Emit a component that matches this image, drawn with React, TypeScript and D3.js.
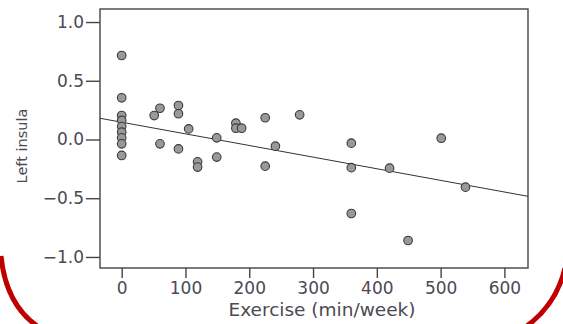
import * as d3 from "d3";
import React, { useEffect, useRef } from "react";

// exercise (min/week) and left insula values
const exercise = [
  0, 0, 0, 0, 0, 0, 0, 0, 0,
  51, 60, 60, 89, 89, 89, 105, 119, 119, 149, 149,
  179, 179, 188, 225, 225, 241, 279, 360, 360, 360,
  420, 449, 501, 539,
];
const insula = [
  0.715, 0.355, 0.204, 0.162, 0.11, 0.062, 0.014, -0.037, -0.136,
  0.204, 0.266, -0.037, 0.289, 0.219, -0.08, 0.09, -0.19, -0.235, 0.014, -0.15,
  0.139, 0.096, 0.096, 0.185, -0.227, -0.057, 0.21, -0.031, -0.24, -0.63,
  -0.244, -0.86, 0.011, -0.406,
];
const xTicks = [0, 100, 200, 300, 400, 500, 600];
const yTicks = [1.0, 0.5, 0.0, -0.5, -1.0];
// fitted line: intercept and slope
const fitIntercept = 0.147;
const fitSlope = -0.00099;

const W = 563;
const H = 324;
const margin = { top: 9, right: 35, bottom: 56, left: 100 };
const font = "'DejaVu Sans', sans-serif";
const textColor = "#4a4a52";

export default function App() {
  const ref = useRef<SVGSVGElement>(null);

  useEffect(() => {
    const svg = d3.select(ref.current);
    svg.selectAll("*").remove();
    const width = W - margin.left - margin.right;
    const height = H - margin.top - margin.bottom;

    const x = d3.scaleLinear().domain([-34, 637]).range([0, width]);
    const y = d3.scaleLinear().domain([-1.094, 1.111]).range([height, 0]);

    const g = svg
      .append("g")
      .attr("transform", `translate(${margin.left},${margin.top})`);

    // frame
    g.append("rect")
      .attr("width", width)
      .attr("height", height)
      .attr("fill", "#fff")
      .attr("stroke", "#444")
      .attr("stroke-width", 1.4);

    const yAxis = d3
      .axisLeft(y)
      .tickValues(yTicks)
      .tickSize(14)
      .tickPadding(2)
      .tickFormat((d: any) => d3.format(".1f")(d).replace("-", "\u2212"));
    const ya = g.append("g").call(yAxis);
    ya.select(".domain").remove();
    ya.selectAll("line").attr("stroke", "#444").attr("stroke-width", 1.4);
    ya.selectAll("text")
      .attr("font-family", font)
      .attr("font-size", 17)
      .attr("fill", textColor);

    const xAxis = d3
      .axisBottom(x)
      .tickValues(xTicks)
      .tickSize(10)
      .tickPadding(4)
      .tickFormat(d3.format("d"));
    const xa = g.append("g").attr("transform", `translate(0,${height})`).call(xAxis);
    xa.select(".domain").remove();
    xa.selectAll("line").attr("stroke", "#444").attr("stroke-width", 1.4);
    xa.selectAll("text")
      .attr("font-family", font)
      .attr("font-size", 17)
      .attr("fill", textColor);

    // regression line
    const xd = x.domain();
    g.append("line")
      .attr("x1", x(xd[0]))
      .attr("y1", y(fitIntercept + fitSlope * xd[0]))
      .attr("x2", x(xd[1]))
      .attr("y2", y(fitIntercept + fitSlope * xd[1]))
      .attr("stroke", "#333")
      .attr("stroke-width", 1);

    // points
    g.selectAll("circle")
      .data(exercise.map((e, i) => ({ e, v: insula[i] })))
      .join("circle")
      .attr("cx", (d) => x(d.e))
      .attr("cy", (d) => y(d.v))
      .attr("r", 4.3)
      .attr("fill", "#999")
      .attr("stroke", "#3a3a3a")
      .attr("stroke-width", 1.1);

    // axis titles
    svg
      .append("text")
      .attr("x", 322)
      .attr("y", 316)
      .attr("text-anchor", "middle")
      .attr("font-family", font)
      .attr("font-size", 18.5)
      .attr("fill", textColor)
      .text("Exercise (min/week)");

    svg
      .append("text")
      .attr("transform", "translate(27,146) rotate(-90)")
      .attr("text-anchor", "middle")
      .attr("font-family", font)
      .attr("font-size", 14.5)
      .attr("fill", textColor)
      .text("Left insula");

    // red slide border corners
    svg
      .append("path")
      .attr("d", "M1,256 Q6,306 40,328")
      .attr("fill", "none")
      .attr("stroke", "#c00000")
      .attr("stroke-width", 5);
    svg
      .append("path")
      .attr("d", "M565,268 Q556,306 524,328")
      .attr("fill", "none")
      .attr("stroke", "#c00000")
      .attr("stroke-width", 5);
  }, []);

  return (
    <div style={{ position: "absolute", left: 0, top: 0, width: W, height: H, background: "#fff" }}>
      <svg ref={ref} width={W} height={H} style={{ display: "block" }} />
    </div>
  );
}
